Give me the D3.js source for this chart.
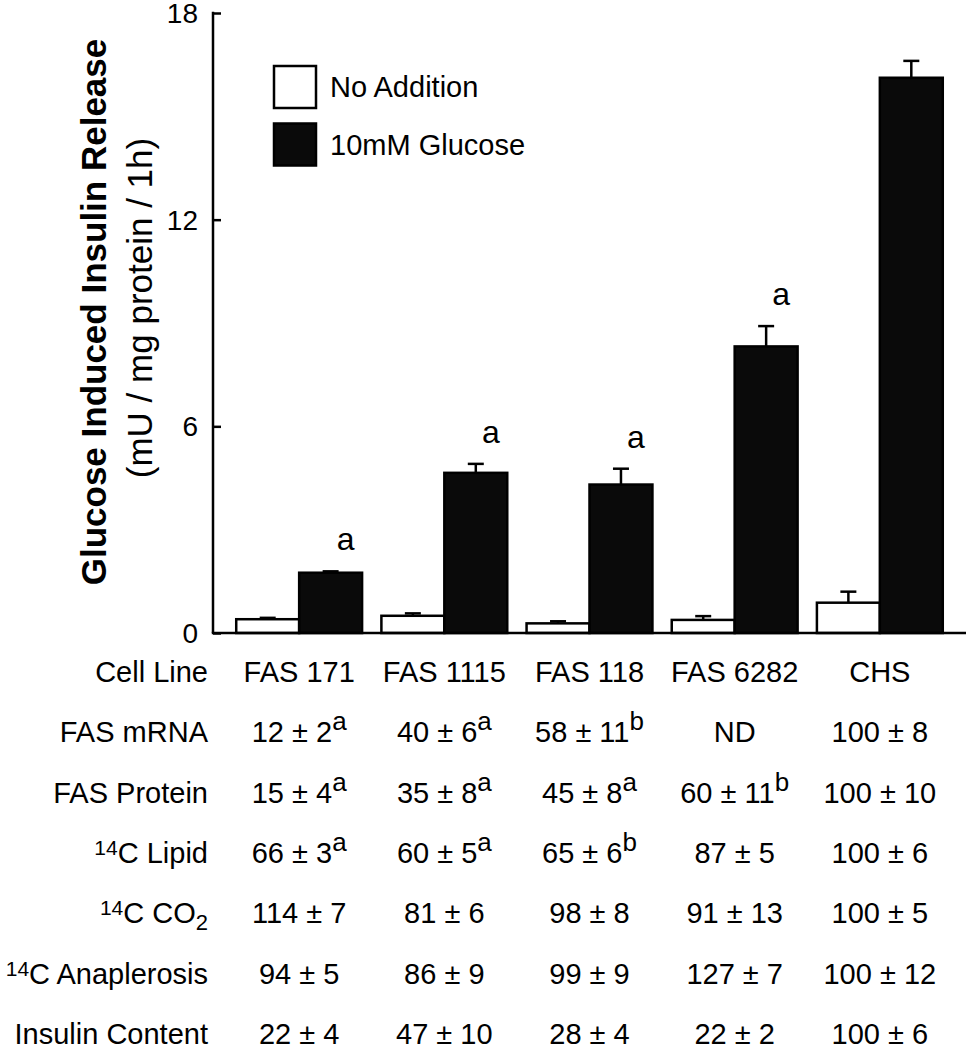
<!DOCTYPE html>
<html><head><meta charset="utf-8">
<script src="https://cdn.jsdelivr.net/npm/d3@7/dist/d3.min.js"></script>
<style>
body{margin:0;background:#fff;}
svg{display:block;font-family:"Liberation Sans",Arial,Helvetica,sans-serif;}
</style></head>
<body>
<svg id="chart" width="966" height="1050"></svg>
<script>
// ---- data ----
const categories = ["FAS 171","FAS 1115","FAS 118","FAS 6282","CHS"];
const seriesNames = ["No Addition","10mM Glucose"];
const noAddition = [0.40, 0.50, 0.28, 0.38, 0.88];
const noAdditionErr = [0.04, 0.07, 0.06, 0.11, 0.32];
const glucose = [1.75, 4.65, 4.31, 8.32, 16.12];
const glucoseErr = [0.04, 0.26, 0.46, 0.59, 0.49];
const significance = ["a","a","a","a",""];
const yTicks = [0, 6, 12, 18];

const rowLabels = [
  {pre:"", main:"Cell Line", sub:""},
  {pre:"", main:"FAS mRNA", sub:""},
  {pre:"", main:"FAS Protein", sub:""},
  {pre:"14", main:"C Lipid", sub:""},
  {pre:"14", main:"C CO", sub:"2"},
  {pre:"14", main:"C Anaplerosis", sub:""},
  {pre:"", main:"Insulin Content", sub:""}
];
const fasMRNA = ["12 ± 2","40 ± 6","58 ± 11","ND","100 ± 8"];
const fasMRNASup = ["a","a","b","",""];
const fasProtein = ["15 ± 4","35 ± 8","45 ± 8","60 ± 11","100 ± 10"];
const fasProteinSup = ["a","a","a","b",""];
const lipid14C = ["66 ± 3","60 ± 5","65 ± 6","87 ± 5","100 ± 6"];
const lipid14CSup = ["a","a","b","",""];
const co2_14C = ["114 ± 7","81 ± 6","98 ± 8","91 ± 13","100 ± 5"];
const anaplerosis14C = ["94 ± 5","86 ± 9","99 ± 9","127 ± 7","100 ± 12"];
const insulinContent = ["22 ± 4","47 ± 10","28 ± 4","22 ± 2","100 ± 6"];

// ---- layout ----
const svg = d3.select("#chart");
const x0 = 213, x1 = 966, yTop = 13, yBot = 633;

const y = d3.scaleLinear().domain([0, 18]).range([yBot, yTop]);
const xg = d3.scaleBand().domain(categories).range([x0, x1]).paddingInner(0.133).paddingOuter(0.16);
const xs = d3.scaleBand().domain(seriesNames).range([0, xg.bandwidth()]).padding(0);

const data = categories.map((c, i) => ({
  cat: c,
  vals: [
    {s: seriesNames[0], v: noAddition[i], e: noAdditionErr[i]},
    {s: seriesNames[1], v: glucose[i], e: glucoseErr[i]}
  ],
  sig: significance[i]
}));

const fills = {"No Addition":"#ffffff","10mM Glucose":"#0a0a0a"};

// bars
const g = svg.append("g");
const groups = g.selectAll("g.grp").data(data).join("g")
  .attr("transform", d => `translate(${xg(d.cat)},0)`);

groups.selectAll("g.err").data(d => d.vals).join("g").each(function(d){
  const cx = xs(d.s) + xs.bandwidth()/2;
  const sel = d3.select(this);
  sel.append("line").attr("x1", cx).attr("x2", cx)
    .attr("y1", y(d.v)).attr("y2", y(d.v + d.e))
    .attr("stroke", "#000").attr("stroke-width", 2.5);
  sel.append("line").attr("x1", cx - 8).attr("x2", cx + 8)
    .attr("y1", y(d.v + d.e)).attr("y2", y(d.v + d.e))
    .attr("stroke", "#000").attr("stroke-width", 2.5);
});

groups.selectAll("rect").data(d => d.vals).join("rect")
  .attr("x", d => xs(d.s))
  .attr("width", xs.bandwidth())
  .attr("y", d => y(d.v))
  .attr("height", d => y(0) - y(d.v))
  .attr("fill", d => fills[d.s])
  .attr("stroke", "#000").attr("stroke-width", 2.5);

// significance letters
groups.append("text")
  .attr("x", xs(seriesNames[1]) + xs.bandwidth()/2 + 15)
  .attr("y", (d, i) => y(glucose[i] + glucoseErr[i]) - 21)
  .attr("text-anchor", "middle")
  .attr("font-size", 32)
  .text(d => d.sig);

// axes
const yAxis = d3.axisLeft(y).tickValues(yTicks).tickSizeInner(-8).tickSizeOuter(0).tickPadding(15);
const ya = svg.append("g").attr("transform", `translate(${x0},0)`).call(yAxis);
ya.select(".domain").attr("stroke-width", 2.5).attr("d", `M0,${yTop - 1.2}V${yBot}`);
ya.selectAll(".tick line").attr("stroke-width", 2.5);
ya.selectAll(".tick text").attr("font-size", 28).attr("font-family", "Liberation Sans, Arial, sans-serif").attr("fill", "#000").attr("dy", "0.34em");

const xAxis = d3.axisBottom(xg).tickSize(0).tickFormat("");
const xa = svg.append("g").attr("transform", `translate(0,${yBot})`).call(xAxis);
xa.select(".domain").attr("stroke-width", 2.5).attr("d", `M${x0 - 1.2},0H${x1}`);

// y title
svg.append("text")
  .attr("transform", "translate(106,312) rotate(-90)")
  .attr("text-anchor", "middle").attr("font-weight", "bold").attr("font-size", 35)
  .text("Glucose Induced Insulin Release");
svg.append("text")
  .attr("transform", "translate(152,308) rotate(-90)")
  .attr("text-anchor", "middle").attr("font-size", 35)
  .text("(mU / mg protein / 1h)");

// legend
const legend = svg.append("g");
seriesNames.forEach((s, i) => {
  legend.append("rect").attr("x", 274).attr("y", 66 + i * 57.5).attr("width", 42).attr("height", 42)
    .attr("fill", fills[s]).attr("stroke", "#000").attr("stroke-width", 2.5);
  legend.append("text").attr("x", 330).attr("y", 97 + i * 57.5).attr("font-size", 29).text(s);
});

// table
const rowY = d3.scaleLinear().domain([0, 6]).range([682, 1044]);
const tableRows = [
  {vals: categories, sup: ["","","","",""]},
  {vals: fasMRNA, sup: fasMRNASup},
  {vals: fasProtein, sup: fasProteinSup},
  {vals: lipid14C, sup: lipid14CSup},
  {vals: co2_14C, sup: ["","","","",""]},
  {vals: anaplerosis14C, sup: ["","","","",""]},
  {vals: insulinContent, sup: ["","","","",""]}
];
const fs = 29;
rowLabels.forEach((r, i) => {
  const t = svg.append("text").attr("x", 208).attr("y", rowY(i)).attr("text-anchor", "end").attr("font-size", fs);
  if (r.pre) t.append("tspan").attr("font-size", 21).attr("dy", -8).text(r.pre);
  t.append("tspan").attr("dy", r.pre ? 8 : 0).text(r.main);
  if (r.sub) t.append("tspan").attr("font-size", 22).attr("dy", 7).text(r.sub);
});
tableRows.forEach((row, i) => {
  row.vals.forEach((v, j) => {
    const t = svg.append("text").attr("x", xg(categories[j]) + xg.bandwidth()/2).attr("y", rowY(i))
      .attr("text-anchor", "middle").attr("font-size", fs);
    t.append("tspan").text(v);
    if (row.sup[j]) t.append("tspan").attr("font-size", 26).attr("dy", -12).text(row.sup[j]);
  });
});
</script>
</body></html>
